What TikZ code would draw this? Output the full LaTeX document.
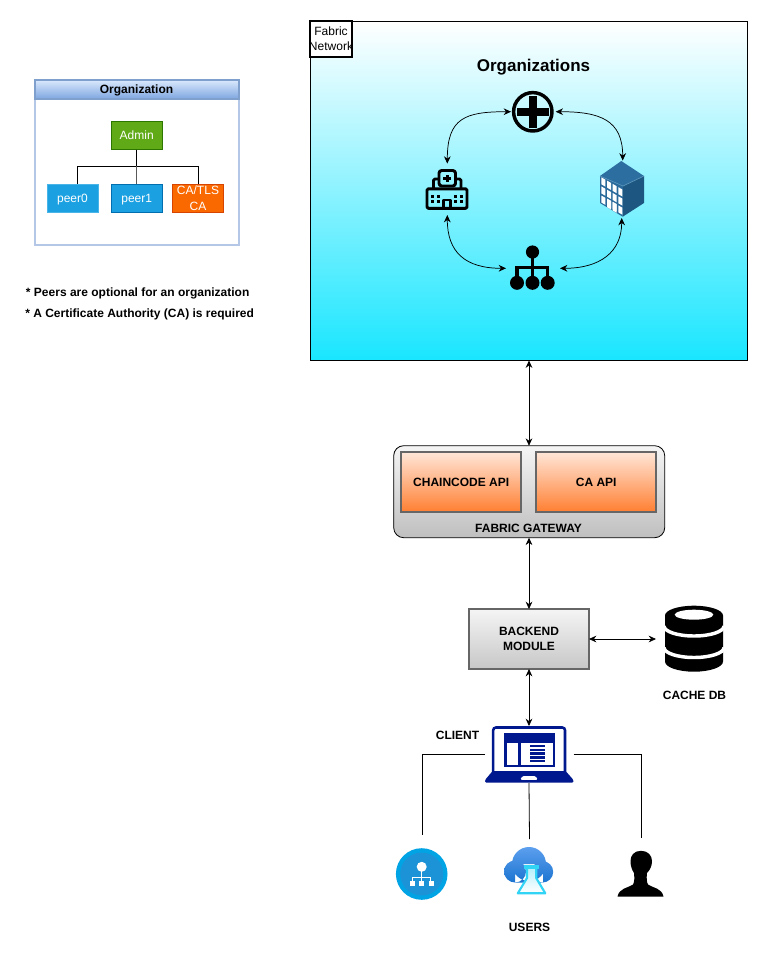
\documentclass[tikz,border=0pt]{standalone}
\usepackage{fontspec}
\setmainfont{Liberation Sans}
\usetikzlibrary{arrows.meta}
\definecolor{navy}{HTML}{00188D}
\definecolor{cyantop}{HTML}{FFFFFF}
\definecolor{cyanbot}{HTML}{19E6FF}
\definecolor{apitop}{HTML}{FFE6D8}
\definecolor{apibot}{HTML}{FF7F32}
\definecolor{hdrtop}{HTML}{DAE8FC}
\definecolor{hdrbot}{HTML}{7EA6E0}
\definecolor{lanebd}{HTML}{B4C7E7}
\definecolor{hdrbd}{HTML}{7F9FCC}
\definecolor{adminf}{HTML}{60A917}
\definecolor{admind}{HTML}{2D7600}
\definecolor{peerf}{HTML}{1BA1E2}
\definecolor{peerd}{HTML}{006EAF}
\definecolor{caf}{HTML}{FA6800}
\definecolor{cad}{HTML}{C73500}
\definecolor{bldtop}{HTML}{2B6E9F}
\definecolor{bldlft}{HTML}{2A6A9B}
\definecolor{bldrgt}{HTML}{1D5680}
\definecolor{bldedge}{HTML}{5A93BB}
\definecolor{azout}{HTML}{00A4E4}
\definecolor{azin}{HTML}{1B93D6}
\definecolor{cloudt}{HTML}{5EA0EF}
\definecolor{cloudb}{HTML}{1B74D0}
\definecolor{flask}{HTML}{32D4F5}
\tikzset{
  x=0.75pt,y=-0.75pt,
  every node/.style={outer sep=0pt},
  dbl/.style={draw=black,line width=0.55pt,{Stealth[length=5.5pt,width=5pt]}-{Stealth[length=5.5pt,width=5pt]}},
  plain/.style={draw=black,line width=0.6pt},
  lbl/.style={font=\bfseries\fontsize{9}{11}\selectfont,align=center,inner sep=0pt,text=black,text depth=0pt},
  org/.style={minimum width=38.25pt,minimum height=21pt,inner sep=0pt,align=center,text=white,font=\fontsize{9}{11.5}\selectfont,line width=0.75pt,text depth=0pt},
  api/.style={minimum width=90pt,minimum height=45pt,inner sep=0pt,draw=black!60,line width=1.2pt,top color=apitop,bottom color=apibot,font=\bfseries\fontsize{9}{11}\selectfont,text=black,align=center},
  ico/.style={line width=2.2pt,draw=black,line join=round},
}
\begin{document}
\begin{tikzpicture}
\useasboundingbox (0,0) rectangle (768,957);
\fill[white] (0,0) rectangle (768,957);

% Organization legend
\node[draw=lanebd,line width=0.9pt,fill=white,minimum width=153pt,minimum height=123.75pt,inner sep=0pt,anchor=north west] (orgbox) at (35,80) {};
\shade[top color=hdrtop,bottom color=hdrbot] (35,80) rectangle (239,99);
\draw[draw=hdrbd,line width=0.8pt] (35,80) rectangle (239,99);
\node[lbl] (orgtitle) at (136.5,88.8) {Organization};
\node[org,fill=adminf,draw=admind] (admin) at (136.7,135.5) {Admin};
\node[org,fill=peerf,draw=peerf!80!white] (peer0) at (72.5,198) {peer0};
\node[org,fill=peerf,draw=peerd] (peer1) at (136.7,198) {peer1};
\node[org,fill=caf,draw=cad!70!caf] (catls) at (198,198) {CA/TLS\\CA};
\coordinate (p0top) at (77.3,184);
\coordinate (trunk) at (136.7,166.3);
\draw[plain,line width=0.9pt] (admin.south) -- (trunk);
\draw[plain] (trunk) -| (p0top);
\draw[plain] (trunk) -| (catls.north);
\draw[plain,draw=black!65] (trunk) -- (peer1.north);
\node[lbl,anchor=west] (note1) at (26,292) {* Peers are optional for an organization};
\node[lbl,anchor=west] (note2) at (25.3,313) {* A Certificate Authority (CA) is required};

% Fabric network
\node[draw=black,line width=0.6pt,top color=cyantop,bottom color=cyanbot,minimum width=327.75pt,minimum height=254.25pt,inner sep=0pt,anchor=north west] (net) at (310.5,21.5) {};
\node[draw=black,fill=white,line width=1.4pt,minimum width=31.5pt,minimum height=27pt,inner sep=0pt,anchor=north west,align=center,font=\fontsize{9}{11.2}\selectfont] (fabnet) at (310,21) {Fabric\\\makebox[0pt][c]{Network}};
\node[inner sep=0pt,text depth=0pt,font=\fontsize{12.75}{15}\selectfont] (orgs) at (533.5,65.5) {\textbf{Organizations}};

% Icon anchors
\coordinate (crossL) at (511,111.7);
\coordinate (crossR) at (555.7,111.7);
\coordinate (hospT) at (447.3,163.6);
\coordinate (hospB) at (447.3,215);
\coordinate (bldT) at (622.7,160.5);
\coordinate (bldB) at (621.7,218);
\coordinate (treeL) at (506,268.3);
\coordinate (treeR) at (560,268.3);

% Cross icon
\draw[line width=2.6pt,draw=black] (532.8,111.8) circle (19.2);
\fill[black] (528.8,95.7) rectangle (536.8,127.7);
\fill[black] (516.7,107.8) rectangle (548.9,115.8);

% Hospital icon
\begin{scope}[shift={(420,165)}]
\draw[ico,fill=none,rounded corners=1pt] (7,23.8) rectangle (47,43.3);
\draw[ico,rounded corners=1pt] (13.5,23.8) -- (13.5,14) -- (19,14);
\draw[ico,rounded corners=1pt] (41,23.8) -- (41,14) -- (35.5,14);
\draw[ico,rounded corners=2pt] (19,5.5) rectangle (35.5,21);
\fill (25.5,9.5) rectangle (29,17);
\fill (23.3,11.5) rectangle (31.3,15);
\draw[ico,fill=none,line width=1.8pt] (23.5,43.3) -- (23.5,34.8) -- (30.5,34.8) -- (30.5,43.3);
\foreach \xx in {11,17,33.5,39.5}{
  \fill (\xx,30) rectangle ++(3,3);
  \fill (\xx,35) rectangle ++(3,3);
}
\end{scope}

% Building icon
\fill[bldtop] (600,176) -- (621.3,161) -- (644,176) -- (623,186) -- cycle;
\fill[bldlft] (600,176) -- (623,186) -- (622.7,216.7) -- (600,203) -- cycle;
\fill[bldrgt] (623,186) -- (644,176) -- (644,203) -- (622.7,216.7) -- cycle;
\draw[bldedge,line width=0.5pt] (600,176) -- (623,186) -- (644,176);
\foreach \cc in {0,1,2,3}{
  \foreach \rr in {0,1,2}{
    \fill[white] ({601.3+\cc*5.7},{177.3+\rr*9.1+\cc*3.3}) -- ++(4,2.3) -- ++(0,7) -- ++(-4,-2.3) -- cycle;
  }
}
\fill[white] (607,198.5) -- (611,200.8) -- (611,209.5) -- (607,207.2) -- cycle;
\fill[white] (612.7,201.8) -- (616.7,204.1) -- (616.7,212.8) -- (612.7,210.5) -- cycle;

% Org tree icon
\fill (532.5,252) circle (6.6);
\fill (517,282.8) circle (7);
\fill (532.5,282.8) circle (7);
\fill (547.7,282.8) circle (7);
\draw[line width=2.6pt] (532.5,252) -- (532.5,282.8);
\draw[line width=2.6pt] (517,282.8) -- (517,267.3) -- (547.7,267.3) -- (547.7,282.8);

% Curved links
\draw[dbl] (crossL) .. controls (465,111.7) and (447.3,118) .. (hospT);
\draw[dbl] (crossR) .. controls (600,111.7) and (622.7,120) .. (bldT);
\draw[dbl] (hospB) .. controls (447.3,252) and (465,268.3) .. (treeL);
\draw[dbl] (treeR) .. controls (600,268.3) and (621.7,252) .. (bldB);

% Gateway
\node[draw=black,line width=0.6pt,rounded corners=7.5pt,top color=white!96!black,bottom color=black!25,minimum width=203.25pt,minimum height=69pt,inner sep=0pt,anchor=north west] (gate) at (393.7,445.7) {};
\node[api] (ccapi) at (461.2,482) {CHAINCODE API};
\node[api] (caapi) at (596.2,482) {CA API};
\node[lbl] (gatelbl) at (528.5,528) {FABRIC GATEWAY};
\draw[dbl] (net.south -| 529,0) -- (gate.north -| 529,0);

% Backend
\node[draw=black!60,line width=1.2pt,top color=white!96!black,bottom color=black!22,minimum width=90pt,minimum height=45pt,inner sep=0pt,align=center,font=\bfseries\fontsize{9}{11.2}\selectfont] (backend) at (529,639) {BACKEND\\MODULE};
\draw[dbl] (gate.south -| backend.north) -- (backend.north);

% Database icon
\coordinate (dbL) at (656,639);
\fill[black] (665,615.5) arc[start angle=180,end angle=360,x radius=29,y radius=9.8] -- (723,661.5) arc[start angle=0,end angle=180,x radius=29,y radius=10.2] -- cycle;
\fill[white] (694,614.7) ellipse[x radius=19.3,y radius=5];
\draw[white,line width=2.6pt] (664,626) arc[start angle=180,end angle=0,x radius=30,y radius=10];
\draw[white,line width=2.6pt] (664,647.5) arc[start angle=180,end angle=0,x radius=30,y radius=10];
\node[lbl] (dblbl) at (694.5,695) {CACHE DB};
\draw[dbl] (backend.east) -- (dbL);

% Laptop
\coordinate (lapT) at (529,726);
\coordinate (lapL) at (485,754.5);
\coordinate (lapR) at (573.5,754.5);
\coordinate (lapB) at (529,783);
\draw[navy,line width=1.9pt,rounded corners=2pt] (493.2,772) -- (493.2,727.5) -- (565,727.5) -- (565,772);
\fill[navy] (504.3,733.3) rectangle (555,766.7);
\fill[white] (507,743.3) rectangle (518.3,765);
\fill[white] (521.3,743.3) rectangle (553,765);
\foreach \yy in {746,749.8,753.6,757.4,761.2}{\fill[navy] (529.7,\yy-1.2) rectangle (545.3,\yy+1.2);}
\fill[navy,rounded corners=1pt] (492.6,771) -- (565.6,771) -- (573.5,780) -- (573.5,782.7) -- (485,782.7) -- (485,780) -- cycle;
\fill[white,rounded corners=1pt] (520.2,779.8) -- (522.5,776) -- (535.5,776) -- (537.8,779.8) -- cycle;
\node[lbl] (clientlbl) at (457.5,735) {CLIENT};
\draw[dbl] (backend.south) -- (lapT);

% User icon anchors
\coordinate (u1) at (422.5,835);
\coordinate (u2) at (529.5,839);
\coordinate (u3) at (641,838);
\draw[plain] (lapL) -| (u1);
\draw[plain] (lapR) -| (u3);
\draw[plain] (lapB) -- (u2);

% Blue tree icon
\fill[azout] (421.7,874) circle (25.8);
\fill[azin] (421.7,874) circle (21.5);
\fill[white] (421.7,866.8) circle (5);
\draw[white,line width=0.6pt] (421.7,866.8) -- (421.7,881) (412.6,881) -- (412.6,877.2) -- (430.8,877.2) -- (430.8,881);
\fill[white] (410,881) rectangle (415,885.8);
\fill[white] (419.3,881) rectangle (424.3,885.8);
\fill[white] (428.7,881) rectangle (433.7,885.8);

% Cloud flask icon
\begin{scope}
\clip (529,864) circle (17) (515,871.5) circle (11) (542.5,871.8) circle (10.7) (515,864) rectangle (543,882.5);
\shade[top color=cloudt,bottom color=cloudb] (500,846) rectangle (560,883);
\end{scope}
\shade[top color=flask!35!white,bottom color=white] (526.5,868) -- (536.7,868) -- (536.7,878) -- (545,893) -- (518,893) -- (526.5,878) -- cycle;
\draw[flask,line width=1.6pt,line join=round] (527,868) -- (527,878) -- (517.8,893.3) -- (545.3,893.3) -- (536.2,878) -- (536.2,868);
\fill[flask] (524,865) rectangle (539.3,868.5);

% Person icon
\fill[black] (641,850.8) .. controls (634,850.8) and (630.5,855.5) .. (630.5,861) .. controls (630.5,866) and (632,870) .. (634,873) .. controls (634.5,878) and (634.5,882) .. (633,884.5) .. controls (628,888) and (619,888) .. (617.5,896.7) -- (663.5,896.7) .. controls (662,888) and (653,888) .. (648,884.5) .. controls (646.5,882) and (646.5,878) .. (647,873) .. controls (650,870) and (652,866) .. (652,861) .. controls (652,855.5) and (648,850.8) .. (641,850.8) -- cycle;
\node[lbl] (userslbl) at (529.5,927) {USERS};
\end{tikzpicture}
\end{document}
